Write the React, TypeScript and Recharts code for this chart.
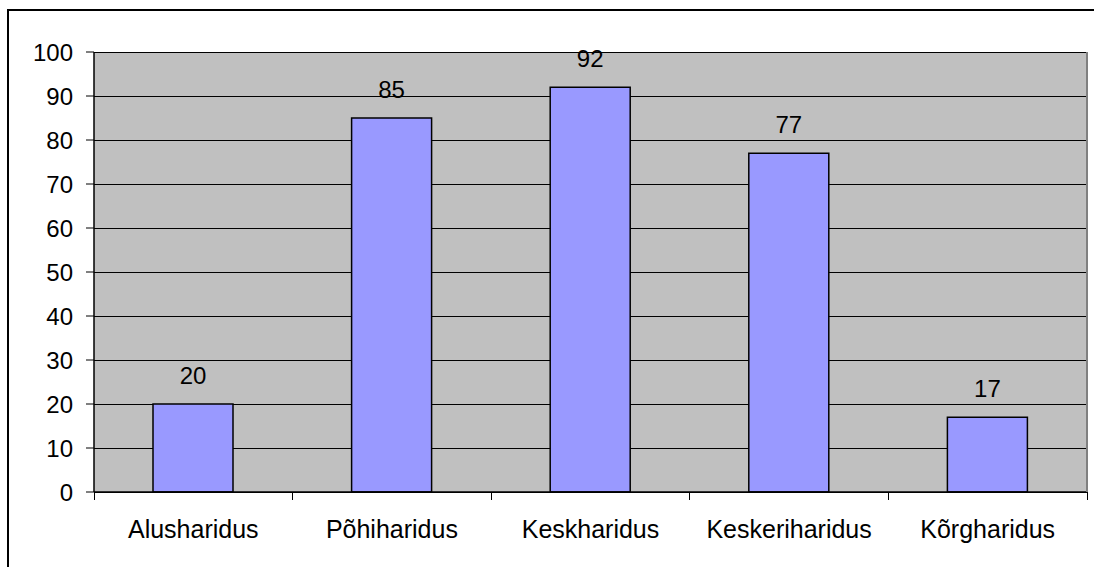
import { Bar, BarChart, CartesianGrid, LabelList, XAxis, YAxis } from 'recharts';

const levels = ['Alusharidus', 'Põhiharidus', 'Keskharidus', 'Keskeriharidus', 'Kõrgharidus'];
const counts = [20, 85, 92, 77, 17];
const yTicks = [0, 10, 20, 30, 40, 50, 60, 70, 80, 90, 100];

const chartData = levels.map((name, i) => ({ name, value: counts[i] }));

const font = '"Liberation Sans", Arial, sans-serif';

// category label plus the tick marks that sit on the band edges
function CategoryTick(props: any) {
  const { x, y, payload, index, visibleTicksCount } = props;
  const half = payload.offset ?? 0;
  const axisY = y - 28;
  const isLast = index === visibleTicksCount - 1;
  return (
    <g>
      <line x1={x - half} x2={x - half} y1={axisY} y2={axisY + 8} stroke="#000" shapeRendering="crispEdges" />
      {isLast && (
        <line x1={x + half} x2={x + half} y1={axisY} y2={axisY + 8} stroke="#000" shapeRendering="crispEdges" />
      )}
      <text x={x} y={y} dy="0.71em" textAnchor="middle" fill="#000" fontSize={25} fontFamily={font}>
        {payload.value}
      </text>
    </g>
  );
}

export default function App() {
  return (
    <div style={{ position: 'absolute', left: 0, top: 0, width: 1094, height: 567, overflow: 'hidden', fontFamily: font }}>
      <div
        style={{
          position: 'absolute',
          left: 7,
          top: 9,
          width: 1200,
          height: 700,
          borderLeft: '2px solid #000',
          borderTop: '2px solid #000',
        }}
      />
      <BarChart
        width={1094}
        height={567}
        data={chartData}
        margin={{ top: 52, right: 0, bottom: 0, left: 0 }}
        style={{ position: 'absolute', left: 0, top: 0 }}
      >
        <CartesianGrid vertical={false} fill="#c0c0c0" stroke="#000" strokeWidth={1} shapeRendering="crispEdges" />
        <XAxis
          xAxisId="top"
          orientation="top"
          height={0}
          tick={false}
          tickLine={false}
          axisLine={{ stroke: '#808080', strokeWidth: 2 }}
        />
        <XAxis
          dataKey="name"
          height={75}
          tickLine={false}
          tickSize={0}
          tickMargin={28}
          interval={0}
          axisLine={{ stroke: '#000', strokeWidth: 1.5 }}
          tick={<CategoryTick />}
        />
        <YAxis
          domain={[0, 100]}
          ticks={yTicks}
          width={94}
          tickSize={8}
          tickMargin={13}
          interval={0}
          axisLine={{ stroke: '#000', strokeWidth: 1.5 }}
          tickLine={{ stroke: '#000' }}
          tick={{ fill: '#000', fontSize: 24, fontFamily: font }}
        />
        <YAxis
          yAxisId="right"
          orientation="right"
          domain={[0, 100]}
          width={7}
          tick={false}
          tickLine={false}
          axisLine={{ stroke: '#808080', strokeWidth: 2 }}
        />
        <Bar dataKey="value" barSize={80} fill="#9999ff" stroke="#000" strokeWidth={1.5} isAnimationActive={false}>
          <LabelList dataKey="value" position="top" offset={20} fill="#000" fontSize={24} fontFamily={font} />
        </Bar>
      </BarChart>
    </div>
  );
}
